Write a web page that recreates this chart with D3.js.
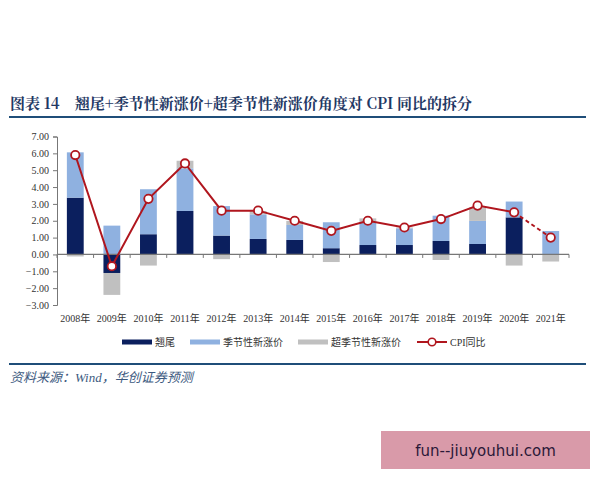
<!DOCTYPE html>
<html>
<head>
<meta charset="utf-8">
<script src="https://cdn.jsdelivr.net/npm/d3@7"></script>
<style>
  body { margin: 0; background: #fff; }
  svg { display: block; }
</style>
</head>
<body>
<svg id="chart" width="600" height="480"></svg>
<script>
// values
const years = ['2008年', '2009年', '2010年', '2011年', '2012年', '2013年', '2014年',
               '2015年', '2016年', '2017年', '2018年', '2019年', '2020年', '2021年'];
const tail     = [3.37, -1.10, 1.20, 2.58, 1.12, 0.92, 0.86, 0.37, 0.56, 0.56, 0.80, 0.62, 2.20, 0.00];
const seasonal = [2.69, 1.71, 2.67, 2.53, 1.75, 1.46, 0.89, 1.54, 1.39, 0.99, 1.50, 1.37, 0.94, 1.39];
const extra    = [-0.12, -1.30, -0.66, 0.45, -0.28, 0.20, 0.24, -0.45, 0.19, 0.05, -0.33, 0.80, -0.66, -0.42];
const cpi      = [5.9, -0.7, 3.3, 5.4, 2.6, 2.6, 2.0, 1.4, 2.0, 1.6, 2.1, 2.9, 2.5, 1.0];
const yTicks   = [-3, -2, -1, 0, 1, 2, 3, 4, 5, 6, 7];

const seriesNames = ['翘尾', '季节性新涨价', '超季节性新涨价'];
const colors = ['#0b1f5e', '#8fb1e0', '#c0c0c0'];
const lineColor = '#b0161e';

const svg = d3.select('#chart');
const serif = '"Liberation Serif", "Noto Sans CJK SC", serif';

// title + rule
svg.append('text')
    .attr('x', 10).attr('y', 109)
    .attr('fill', '#1f3864')
    .style('font-family', '"Noto Serif CJK SC", "Noto Sans CJK SC", serif')
    .style('font-size', '15px')
    .style('font-weight', 'bold')
    .text('图表 14\u2002\u2002翘尾+季节性新涨价+超季节性新涨价角度对 CPI 同比的拆分');

svg.append('line')
    .attr('x1', 9).attr('x2', 586)
    .attr('y1', 117).attr('y2', 117)
    .attr('stroke', '#1f4e79').attr('stroke-width', 2);

// scales
const x = d3.scaleBand().domain(years).range([57, 569]).paddingInner(0.54).paddingOuter(0.27);
const y = d3.scaleLinear().domain([-3, 7]).range([305, 136.5]);

const rows = years.map((yr, i) => ({ year: yr, a: tail[i], b: seasonal[i], c: extra[i] }));
const stacked = d3.stack()
    .keys(['a', 'b', 'c'])
    .offset(d3.stackOffsetDiverging)(rows);

// y axis
const yAxis = svg.append('g')
    .attr('transform', 'translate(57,0)')
    .call(d3.axisLeft(y).tickValues(yTicks).tickFormat(d3.format('.2f')).tickSize(4).tickPadding(4));
yAxis.select('.domain').attr('stroke', '#777');
yAxis.selectAll('.tick line').attr('stroke', '#777');
yAxis.selectAll('text')
    .attr('fill', '#333')
    .style('font-family', serif)
    .style('font-size', '10px');

// bars
svg.append('g').selectAll('g')
    .data(stacked)
    .join('g')
    .attr('fill', (d, i) => colors[i])
    .selectAll('rect')
    .data(d => d)
    .join('rect')
    .attr('x', d => x(d.data.year))
    .attr('width', x.bandwidth())
    .attr('y', d => y(Math.max(d[0], d[1])))
    .attr('height', d => Math.abs(y(d[0]) - y(d[1])));

// x axis on zero
const step = x.step();
const xAxis = svg.append('g').attr('transform', `translate(0,${y(0)})`);
xAxis.append('line')
    .attr('x1', 57).attr('x2', 569)
    .attr('stroke', '#777').attr('stroke-width', 1.2);
xAxis.selectAll('.tk')
    .data(d3.range(years.length + 1))
    .join('line')
    .attr('class', 'tk')
    .attr('x1', i => 57 + i * step).attr('x2', i => 57 + i * step)
    .attr('y1', 0).attr('y2', 3.5)
    .attr('stroke', '#777');

svg.append('g').selectAll('text')
    .data(years)
    .join('text')
    .attr('x', d => x(d) + x.bandwidth() / 2)
    .attr('y', 322)
    .attr('text-anchor', 'middle')
    .attr('fill', '#333')
    .style('font-family', serif)
    .style('font-size', '10px')
    .text(d => d);

// CPI line: solid through 2020, dashed to the 2021 forecast
const pts = years.map((yr, i) => ({ year: yr, v: cpi[i] }));
const line = d3.line().x(d => x(d.year) + x.bandwidth() / 2).y(d => y(d.v));

svg.append('path')
    .datum(pts.slice(0, 13))
    .attr('d', line)
    .attr('fill', 'none')
    .attr('stroke', lineColor)
    .attr('stroke-width', 2);

svg.append('path')
    .datum(pts.slice(12))
    .attr('d', line)
    .attr('fill', 'none')
    .attr('stroke', lineColor)
    .attr('stroke-width', 2)
    .attr('stroke-dasharray', '4,3');

svg.append('g').selectAll('circle')
    .data(pts)
    .join('circle')
    .attr('cx', d => x(d.year) + x.bandwidth() / 2)
    .attr('cy', d => y(d.v))
    .attr('r', 4.2)
    .attr('fill', '#fff')
    .attr('stroke', lineColor)
    .attr('stroke-width', 1.8);

// legend
const legend = svg.append('g').attr('transform', 'translate(0,342)');
const legX = [122, 190, 298];
seriesNames.forEach((name, i) => {
    legend.append('rect')
        .attr('x', legX[i]).attr('y', -2.5)
        .attr('width', 30).attr('height', 5)
        .attr('fill', colors[i]);
    legend.append('text')
        .attr('x', legX[i] + 33).attr('y', 3.5)
        .attr('fill', '#333')
        .style('font-family', serif)
        .style('font-size', '10px')
        .text(name);
});
legend.append('line')
    .attr('x1', 417).attr('x2', 447)
    .attr('y1', 0).attr('y2', 0)
    .attr('stroke', lineColor).attr('stroke-width', 2);
legend.append('circle')
    .attr('cx', 432).attr('cy', 0).attr('r', 3.8)
    .attr('fill', '#fff').attr('stroke', lineColor).attr('stroke-width', 1.6);
legend.append('text')
    .attr('x', 450).attr('y', 3.5)
    .attr('fill', '#333')
    .style('font-family', serif)
    .style('font-size', '10px')
    .text('CPI同比');

// bottom rule + source
svg.append('line')
    .attr('x1', 9).attr('x2', 586)
    .attr('y1', 364).attr('y2', 364)
    .attr('stroke', '#1f4e79').attr('stroke-width', 2);

svg.append('text')
    .attr('x', 10).attr('y', 382)
    .attr('fill', '#3d5a80')
    .style('font-family', serif)
    .style('font-size', '13px')
    .style('font-style', 'italic')
    .text('资料来源：Wind，华创证券预测');

// watermark box
svg.append('rect')
    .attr('x', 381).attr('y', 431)
    .attr('width', 209).attr('height', 38)
    .attr('fill', '#d99aa9');
svg.append('text')
    .attr('x', 485.5).attr('y', 455.5)
    .attr('text-anchor', 'middle')
    .attr('fill', '#2b1838')
    .style('font-family', '"DejaVu Sans", sans-serif')
    .style('font-size', '15px')
    .text('fun--jiuyouhui.com');
</script>
</body>
</html>
